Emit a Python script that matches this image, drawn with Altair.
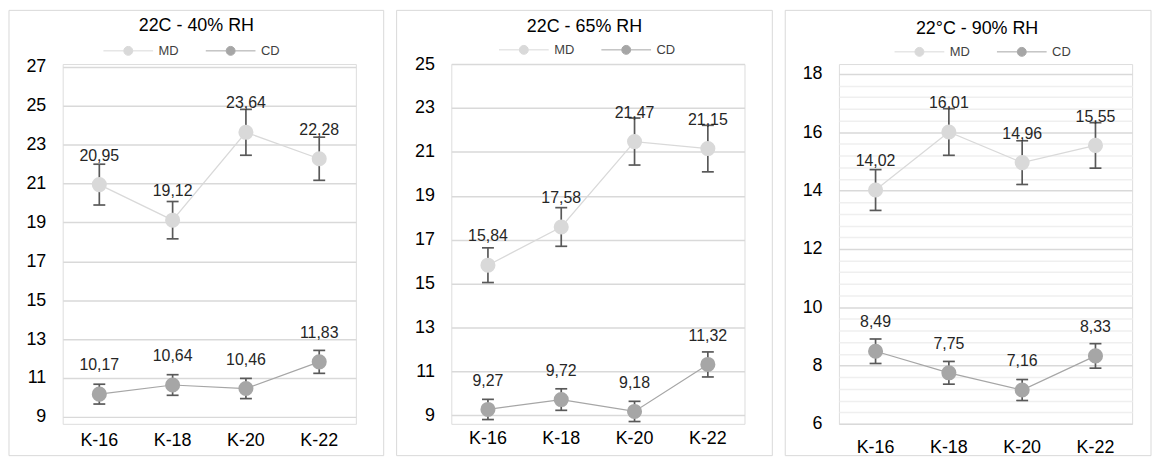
import altair as alt
import pandas as pd

# ---------------- data ----------------
categories = ["K-16", "K-18", "K-20", "K-22"]
series_names = ["MD", "CD"]
series_colors = ["#d9d9d9", "#a6a6a6"]

titles = ["22C - 40% RH", "22C - 65% RH", "22\u00b0C - 90% RH"]

p1_md = [20.95, 19.12, 23.64, 22.28]
p1_cd = [10.17, 10.64, 10.46, 11.83]
p1_md_err = [1.05, 0.96, 1.18, 1.11]
p1_cd_err = [0.51, 0.53, 0.52, 0.59]

p2_md = [15.84, 17.58, 21.47, 21.15]
p2_cd = [9.27, 9.72, 9.18, 11.32]
p2_md_err = [0.79, 0.88, 1.07, 1.06]
p2_cd_err = [0.46, 0.49, 0.46, 0.57]

p3_md = [14.02, 16.01, 14.96, 15.55]
p3_cd = [8.49, 7.75, 7.16, 8.33]
p3_md_err = [0.70, 0.80, 0.75, 0.78]
p3_cd_err = [0.42, 0.39, 0.36, 0.42]

p1_ticks = [9, 11, 13, 15, 17, 19, 21, 23, 25, 27]
p2_ticks = [9, 11, 13, 15, 17, 19, 21, 23, 25]
p3_ticks = [6, 6.4, 6.8, 7.2, 7.6, 8, 8.4, 8.8, 9.2, 9.6, 10, 10.4, 10.8, 11.2, 11.6,
            12, 12.4, 12.8, 13.2, 13.6, 14, 14.4, 14.8, 15.2, 15.6, 16, 16.4, 16.8,
            17.2, 17.6, 18]

# scale domains (slightly wider than the axis range so all three plot frames line up)
p1_domain = [8.642, 27.153]
p2_domain = [8.615, 25.0]
p3_domain = [6.0, 18.341]

FONT = "Liberation Sans"
ERR_COLOR = "#595959"
GRID = "#d9d9d9"
MINOR_GRID = "#efefef"

LEGEND_PATH = ("M-2.5,0H-0.45A0.45,0.45,0,1,1,0.45,0A0.45,0.45,0,1,1,-0.45,0"
               "M0.45,0H2.5")

W = 295
H = 362


def make_df(md, cd, md_err, cd_err):
    rows = []
    for s, vals, errs in (("MD", md, md_err), ("CD", cd, cd_err)):
        for c, v, e in zip(categories, vals, errs):
            rows.append({"cat": c, "series": s, "value": v,
                         "lo": v - e, "hi": v + e})
    return pd.DataFrame(rows)


def panel(df, title, domain, ticks, box, title_pos, legend_pos, xpad, minor=False):
    base = alt.Chart(df).transform_calculate(
        label="replace(format(datum.value, '.2f'), '.', ',')"
    )
    x = alt.X("cat:N", sort=categories,
              scale=alt.Scale(domain=categories, paddingInner=0, paddingOuter=0),
              axis=alt.Axis(title=None, labelAngle=0, domain=False, ticks=False,
                            grid=False, labelFontSize=18, labelPadding=xpad,
                            labelColor="#000000", labelFont=FONT))
    even = "abs(datum.value - 2*round(datum.value/2)) < 0.01"
    axis_kwargs = dict(title=None, values=ticks, domain=False, ticks=False,
                       format=".0f",
                       labelFontSize=18, labelPadding=17, labelColor="#000000",
                       labelFont=FONT, grid=True, gridWidth=1.5)
    if minor:
        axis_kwargs["gridColor"] = {"condition": {"test": even, "value": GRID},
                                    "value": MINOR_GRID}
        axis_kwargs["labelExpr"] = f"({even}) ? datum.label : ''"
    else:
        axis_kwargs["gridColor"] = GRID
    yaxis = alt.Axis(**axis_kwargs)
    yscale = alt.Scale(domain=domain, nice=False, zero=False)

    color_scale = alt.Scale(domain=series_names, range=series_colors)
    legend = alt.Legend(title=None, orient="none", legendX=legend_pos[0],
                        legendY=legend_pos[1], direction="horizontal",
                        symbolType=LEGEND_PATH, symbolSize=400,
                        symbolStrokeWidth=1, labelFontSize=13, labelOffset=20,
                        columnPadding=24, padding=0, labelColor="#404040",
                        labelFont=FONT)

    one = alt.Chart(pd.DataFrame({"k": [0]}))
    border = one.mark_rect(fill="#ffffff", fillOpacity=0, stroke="#d9d9d9",
                           strokeWidth=1).encode(
        x=alt.value(box[0]), x2=alt.value(W + box[1]),
        y=alt.value(box[2]), y2=alt.value(H + box[3]))
    ttl = one.mark_text(fontSize=18, font=FONT, color="#000000",
                        baseline="middle", align="center").encode(
        x=alt.value(title_pos[0]), y=alt.value(title_pos[1]),
        text=alt.value(title))

    line = base.mark_line(strokeWidth=1.25).encode(
        x=x, y=alt.Y("value:Q", scale=yscale, axis=yaxis),
        stroke=alt.Stroke("series:N", scale=color_scale, legend=legend),
        detail="series:N")
    rule = base.mark_rule(color=ERR_COLOR, strokeWidth=1.7).encode(
        x=x, y=alt.Y("lo:Q", scale=yscale, axis=yaxis), y2="hi:Q")
    cap_lo = base.mark_tick(color=ERR_COLOR, thickness=1.7, size=12,
                            opacity=1).encode(
        x=x, y=alt.Y("lo:Q", scale=yscale, axis=yaxis))
    cap_hi = base.mark_tick(color=ERR_COLOR, thickness=1.7, size=12,
                            opacity=1).encode(
        x=x, y=alt.Y("hi:Q", scale=yscale, axis=yaxis))
    pts = base.mark_point(filled=True, size=230, opacity=1).encode(
        x=x, y=alt.Y("value:Q", scale=yscale, axis=yaxis),
        fill=alt.Fill("series:N", scale=color_scale, legend=legend))
    labels = base.mark_text(dy=-29, fontSize=16, font=FONT,
                            color="#262626").encode(
        x=x, y=alt.Y("value:Q", scale=yscale, axis=yaxis),
        text="label:N")

    return alt.layer(border, ttl, line, rule, cap_lo, cap_hi, pts, labels
                     ).properties(width=W, height=H)


c1 = panel(make_df(p1_md, p1_cd, p1_md_err, p1_cd_err), titles[0], p1_domain,
           p1_ticks, (-54, 28, -54, 32), (134.5, -38), (55.5, -24), 8)
c2 = panel(make_df(p2_md, p2_cd, p2_md_err, p2_cd_err), titles[1], p2_domain,
           p2_ticks, (-55, 28, -54, 32), (134, -37), (62.5, -25), 6)
c3 = panel(make_df(p3_md, p3_cd, p3_md_err, p3_cd_err), titles[2], p3_domain,
           p3_ticks, (-54, 19, -54, 32), (139, -35), (70.5, -23), 15,
           minor=True)

chart = alt.hconcat(c1, c2, c3, spacing=11).resolve_scale(
    fill="independent", stroke="independent"
).resolve_legend(
    fill="independent", stroke="independent"
).properties(
    padding=0, background="#ffffff"
).configure_view(stroke=None).configure_axis(
    domain=False, ticks=False
).configure(font=FONT)

chart.save("out.html", embed_options={"renderer": "svg", "actions": False})
